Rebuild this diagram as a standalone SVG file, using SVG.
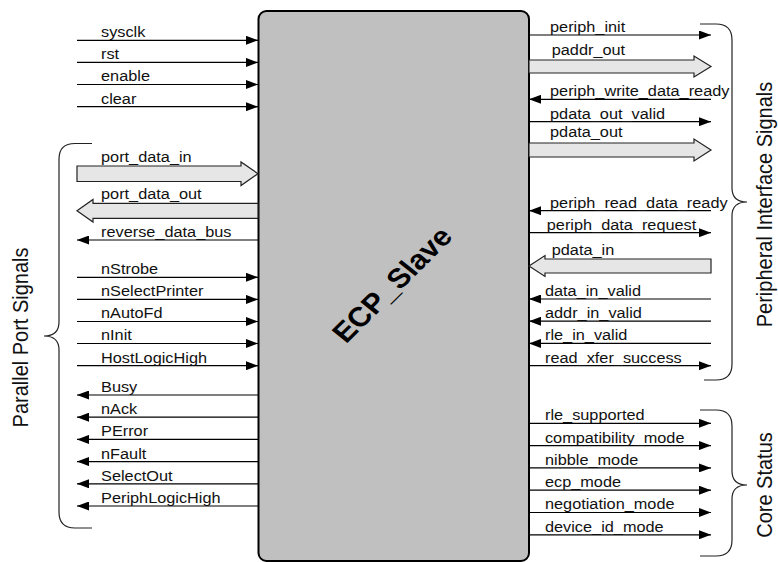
<svg xmlns="http://www.w3.org/2000/svg" width="778" height="562" viewBox="0 0 778 562">
<defs>
<marker id="ah" markerUnits="userSpaceOnUse" markerWidth="12" markerHeight="9" refX="12" refY="4.5" orient="auto">
<path d="M0,0 L12,4.5 L0,9 Z" fill="#000"/>
</marker>
<style>
.sig{stroke:#000;stroke-width:1.2;fill:none;marker-end:url(#ah)}
.bus{fill:#e6e6e6;stroke:#222;stroke-width:1.2;stroke-linejoin:miter}
.brace{fill:none;stroke:#222;stroke-width:1.2}
.lbl{font-family:"Liberation Sans",Arial,sans-serif;font-size:14.5px;fill:#111}
.grp{font-family:"Liberation Sans",Arial,sans-serif;font-size:20px;fill:#111;text-anchor:middle}
.title{font-family:"Liberation Sans",Arial,sans-serif;font-size:27.5px;font-weight:bold;fill:#000;text-anchor:middle}
</style>
</defs>
<rect width="778" height="562" fill="#fff"/>

<g id="ECP_Slave">
<rect x="258.5" y="11" width="270.5" height="550" rx="8" fill="#c0c0c0" stroke="#000" stroke-width="2"/>
<text class="title" transform="translate(400,291) scale(1.125,1) rotate(-48)">ECP_Slave</text>
</g>

<g id="connectors">
<line class="sig" x1="77" y1="40.3" x2="258" y2="40.3"/>
<line class="sig" x1="77" y1="62.4" x2="258" y2="62.4"/>
<line class="sig" x1="77" y1="84.5" x2="258" y2="84.5"/>
<line class="sig" x1="77" y1="106.7" x2="258" y2="106.7"/>
<path class="bus" d="M77,166 L241,166 L241,162 L258,173.7 L241,185.5 L241,181.5 L77,181.5 Z"/>
<path class="bus" d="M258,203.3 L93,203.3 L93,199.5 L77,210.8 L93,222 L93,218.3 L258,218.3 Z"/>
<line class="sig" x1="258" y1="240" x2="77" y2="240"/>
<line class="sig" x1="77" y1="277.3" x2="258" y2="277.3"/>
<line class="sig" x1="77" y1="299.4" x2="258" y2="299.4"/>
<line class="sig" x1="77" y1="321.5" x2="258" y2="321.5"/>
<line class="sig" x1="77" y1="343.5" x2="258" y2="343.5"/>
<line class="sig" x1="77" y1="365.7" x2="258" y2="365.7"/>
<line class="sig" x1="258" y1="395" x2="77" y2="395"/>
<line class="sig" x1="258" y1="417.2" x2="77" y2="417.2"/>
<line class="sig" x1="258" y1="439.4" x2="77" y2="439.4"/>
<line class="sig" x1="258" y1="461.6" x2="77" y2="461.6"/>
<line class="sig" x1="258" y1="483.8" x2="77" y2="483.8"/>
<line class="sig" x1="258" y1="506" x2="77" y2="506"/>

<line class="sig" x1="529" y1="35" x2="711" y2="35"/>
<path class="bus" d="M529,60 L694,60 L694,56 L711,66.5 L694,77 L694,73 L529,73 Z"/>
<line class="sig" x1="711" y1="99.3" x2="529" y2="99.3"/>
<line class="sig" x1="529" y1="121.7" x2="711" y2="121.7"/>
<path class="bus" d="M529,143 L694,143 L694,139 L711,150 L694,161 L694,157 L529,157 Z"/>
<line class="sig" x1="711" y1="210.7" x2="529" y2="210.7"/>
<line class="sig" x1="529" y1="232.7" x2="711" y2="232.7"/>
<path class="bus" d="M711,259 L545,259 L545,255.5 L529,266 L545,276.5 L545,273 L711,273 Z"/>
<line class="sig" x1="711" y1="299" x2="529" y2="299"/>
<line class="sig" x1="711" y1="321.2" x2="529" y2="321.2"/>
<line class="sig" x1="711" y1="343.4" x2="529" y2="343.4"/>
<line class="sig" x1="529" y1="365.7" x2="711" y2="365.7"/>
<line class="sig" x1="529" y1="423.3" x2="711" y2="423.3"/>
<line class="sig" x1="529" y1="445.6" x2="711" y2="445.6"/>
<line class="sig" x1="529" y1="467.9" x2="711" y2="467.9"/>
<line class="sig" x1="529" y1="490.2" x2="711" y2="490.2"/>
<line class="sig" x1="529" y1="512.5" x2="711" y2="512.5"/>
<line class="sig" x1="529" y1="534.8" x2="711" y2="534.8"/>
</g>

<g id="signal-labels" transform="scale(1.125,1)">
<text class="lbl" x="89.8" y="37.3">sysclk</text>
<text class="lbl" x="89.8" y="59.4">rst</text>
<text class="lbl" x="89.8" y="81.5">enable</text>
<text class="lbl" x="89.8" y="103.7">clear</text>
<text class="lbl" x="89.8" y="162">port_data_in</text>
<text class="lbl" x="89.8" y="199">port_data_out</text>
<text class="lbl" x="89.8" y="237">reverse_data_bus</text>
<text class="lbl" x="89.8" y="274.3">nStrobe</text>
<text class="lbl" x="89.8" y="296.4">nSelectPrinter</text>
<text class="lbl" x="89.8" y="318.5">nAutoFd</text>
<text class="lbl" x="89.8" y="340.5">nInit</text>
<text class="lbl" x="89.8" y="362.7">HostLogicHigh</text>
<text class="lbl" x="89.8" y="392">Busy</text>
<text class="lbl" x="89.8" y="414.2">nAck</text>
<text class="lbl" x="89.8" y="436.4">PError</text>
<text class="lbl" x="89.8" y="458.6">nFault</text>
<text class="lbl" x="89.8" y="480.8">SelectOut</text>
<text class="lbl" x="89.8" y="503">PeriphLogicHigh</text>

<text class="lbl" x="488.9" y="32">periph_init</text>
<text class="lbl" x="490.4" y="55.5">paddr_out</text>
<text class="lbl" x="488.9" y="96.3">periph_write_data_ready</text>
<text class="lbl" x="488.9" y="118.7">pdata_out_valid</text>
<text class="lbl" x="488.9" y="137.5">pdata_out</text>
<text class="lbl" x="488.9" y="207.7">periph_read_data_ready</text>
<text class="lbl" x="486" y="229.7">periph_data_request</text>
<text class="lbl" x="490.4" y="255">pdata_in</text>
<text class="lbl" x="484.4" y="296">data_in_valid</text>
<text class="lbl" x="484.4" y="318.2">addr_in_valid</text>
<text class="lbl" x="484.4" y="340.4">rle_in_valid</text>
<text class="lbl" x="484.4" y="362.7">read_xfer_success</text>
<text class="lbl" x="484.4" y="420.3">rle_supported</text>
<text class="lbl" x="484.4" y="442.6">compatibility_mode</text>
<text class="lbl" x="484.4" y="464.9">nibble_mode</text>
<text class="lbl" x="484.4" y="487.2">ecp_mode</text>
<text class="lbl" x="484.4" y="509.5">negotiation_mode</text>
<text class="lbl" x="484.4" y="531.8">device_id_mode</text>
</g>

<g id="parallel-port-signals">
<path class="brace" d="M92,143.5 L75,143.5 Q59,143.5 59,159 L59,322 Q59,336 44,336 Q59,336 59,350 L59,512 Q59,528 75,528 L92,528"/>
<text class="grp" transform="translate(28,337.5) scale(1.125,1) rotate(-90)">Parallel Port Signals</text>
</g>

<g id="peripheral-interface-signals">
<path class="brace" d="M700,24 L716,24 Q732,24 732,40 L732,188 Q732,202 747,202 Q732,202 732,216 L732,364 Q732,380 716,380 L704,380"/>
<text class="grp" transform="translate(772,204.5) scale(1.125,1) rotate(-90)">Peripheral Interface Signals</text>
</g>

<g id="core-status">
<path class="brace" d="M700,410 L716,410 Q732,410 732,426 L732,471 Q732,485 747,485 Q732,485 732,499 L732,540 Q732,556 716,556 L700,556"/>
<text class="grp" transform="translate(772,485) scale(1.125,1) rotate(-90)">Core Status</text>
</g>
</svg>
